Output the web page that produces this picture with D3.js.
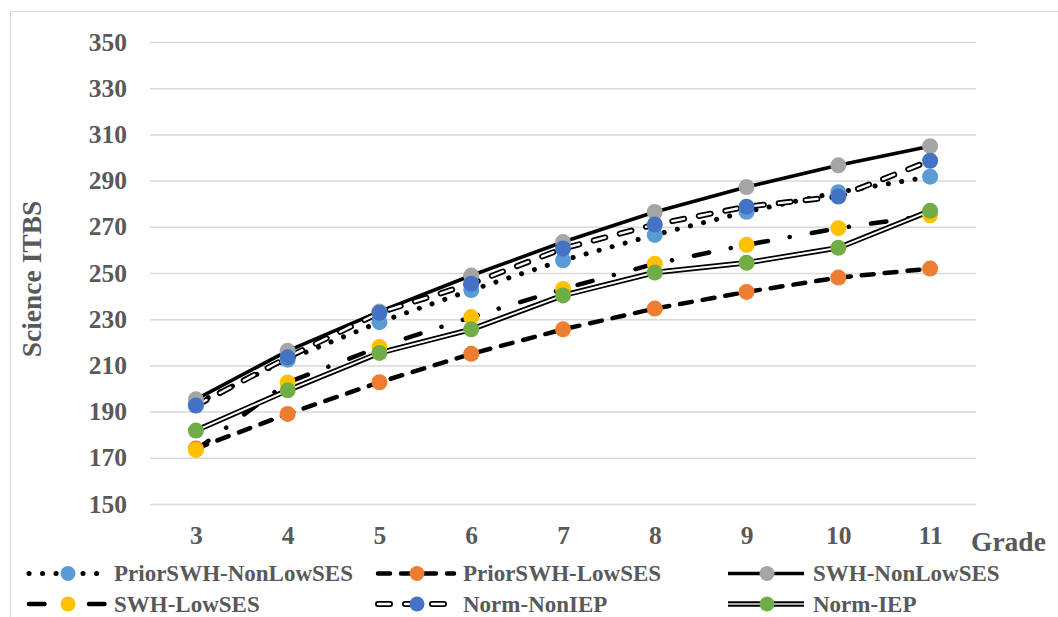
<!DOCTYPE html>
<html>
<head>
<meta charset="utf-8">
<script src="https://cdn.jsdelivr.net/npm/d3@7"></script>
<style>
  html, body { margin: 0; padding: 0; background: #fff; }
  svg { display: block; }
  text { font-family: "Liberation Serif", "Times New Roman", serif; font-weight: bold; fill: #595959; }
</style>
</head>
<body>
<div id="chart"></div>
<script>
// ---- data ----
const grades = ["3", "4", "5", "6", "7", "8", "9", "10", "11"];
const yTicks = [150, 170, 190, 210, 230, 250, 270, 290, 310, 330, 350];
const seriesNames = ["PriorSWH-NonLowSES", "PriorSWH-LowSES", "SWH-NonLowSES", "SWH-LowSES", "Norm-NonIEP", "Norm-IEP"];
const priorSwhNonLowSES = [193.5, 212.5, 228.7, 242.6, 255.5, 266.5, 276.5, 285.0, 291.7];
const priorSwhLowSES    = [174.0, 189.0, 202.7, 215.0, 225.6, 234.6, 241.8, 248.0, 251.9];
const swhNonLowSES      = [195.3, 216.3, 233.3, 248.9, 263.4, 276.4, 287.2, 296.6, 304.9];
const swhLowSES         = [173.4, 202.6, 218.0, 230.9, 243.1, 254.0, 262.2, 269.4, 275.0];
const normNonIEP        = [192.6, 213.5, 232.8, 245.4, 260.6, 271.0, 278.7, 283.1, 298.6];
const normIEP           = [181.8, 199.2, 215.4, 225.6, 240.3, 250.2, 254.4, 260.9, 276.9];
const markerColors = ["#5B9BD5", "#ED7D31", "#A5A5A5", "#FFC000", "#4472C4", "#70AD47"];
const yTitle = "Science ITBS";
const xTitle = "Grade";

const seriesValues = [priorSwhNonLowSES, priorSwhLowSES, swhNonLowSES, swhLowSES, normNonIEP, normIEP];

// ---- line styles ----
const styles = [
  [{ w: 5, dash: "0.1 13.4", cap: "round", color: "#000" }],
  [{ w: 4.5, dash: "12 11", cap: "round", color: "#000" }],
  [{ w: 3.6, dash: null, cap: "butt", color: "#000" }],
  [{ w: 4.5, dash: "15.5 22 0.1 22.4", cap: "round", color: "#000" }],
  [{ w: 6, dash: "12 15", cap: "round", color: "#000" }, { w: 2.4, dash: "12 15", cap: "round", color: "#fff" }],
  [{ w: 5.5, dash: null, cap: "butt", color: "#000" }, { w: 2, dash: null, cap: "butt", color: "#fff" }]
];

const W = 1058, H = 617;
const svg = d3.select("#chart").append("svg").attr("width", W).attr("height", H);

// border
svg.append("rect").attr("x", 10.5).attr("y", 11.5).attr("width", W + 10).attr("height", H + 10)
  .attr("fill", "#fff").attr("stroke", "#d9d9d9").attr("stroke-width", 1.2);

const plotL = 150, plotR = 976, plotT = 42, plotB = 504;
const x = d3.scalePoint().domain(grades).range([plotL, plotR]).padding(0.5);
const y = d3.scaleLinear().domain([150, 350]).range([plotB, plotT]);

// y axis + gridlines
const yAxis = svg.append("g").attr("transform", `translate(${plotL},0)`)
  .call(d3.axisLeft(y).tickValues(yTicks).tickSize(-(plotR - plotL)).tickPadding(23).tickFormat(d3.format("d")));
yAxis.select(".domain").remove();
yAxis.selectAll(".tick line").attr("stroke", "#d9d9d9").attr("stroke-width", 1.5);
yAxis.selectAll(".tick text").style("font-size", "25.5px").attr("fill", "#595959")
  .style("font-family", '"Liberation Serif", serif').style("font-weight", "bold");

// x axis
const xAxis = svg.append("g").attr("transform", `translate(0,${plotB})`)
  .call(d3.axisBottom(x).tickSize(0).tickPadding(22));
xAxis.select(".domain").remove();
xAxis.selectAll(".tick text").style("font-size", "25.5px").attr("fill", "#595959")
  .style("font-family", '"Liberation Serif", serif').style("font-weight", "bold");

// titles
svg.append("text").attr("transform", "translate(31,279) rotate(-90)")
  .attr("text-anchor", "middle").attr("dominant-baseline", "central")
  .style("font-size", "27.5px").text(yTitle);
svg.append("text").attr("x", 971).attr("y", 541).attr("dominant-baseline", "central")
  .style("font-size", "27.5px").text(xTitle);

// lines
const line = d3.line().x((d, i) => x(grades[i])).y(d => y(d));
const linesG = svg.append("g");
seriesValues.forEach((vals, s) => {
  styles[s].forEach(st => {
    linesG.append("path").datum(vals).attr("d", line)
      .attr("fill", "none").attr("stroke", st.color).attr("stroke-width", st.w)
      .attr("stroke-linecap", st.cap).attr("stroke-linejoin", "round")
      .attr("stroke-dasharray", st.dash);
  });
});
// markers
const markG = svg.append("g");
seriesValues.forEach((vals, s) => {
  markG.selectAll(null).data(vals).enter().append("circle")
    .attr("cx", (d, i) => x(grades[i])).attr("cy", d => y(d)).attr("r", 8)
    .attr("fill", markerColors[s]);
});

// legend
const legCols = [29, 378, 728];
const legRows = [573.5, 604];
const legLen = 76;
const legG = svg.append("g");
seriesNames.forEach((name, s) => {
  const cx = legCols[s % 3], cy = legRows[Math.floor(s / 3)];
  const g = legG.append("g");
  styles[s].forEach((st, k) => {
    let color = st.color;
    if (s === 5 && k === 1) color = "#aaa";
    g.append("line").attr("x1", cx).attr("x2", cx + legLen).attr("y1", cy).attr("y2", cy)
      .attr("stroke", color).attr("stroke-width", st.w)
      .attr("stroke-linecap", st.cap).attr("stroke-dasharray", st.dash);
  });
  g.append("circle").attr("cx", cx + 39).attr("cy", cy).attr("r", 7.5).attr("fill", markerColors[s]);
  g.append("text").attr("x", cx + legLen + 9).attr("y", cy).attr("dominant-baseline", "central")
    .style("font-size", "23px").text(name);
});
</script>
</body>
</html>
